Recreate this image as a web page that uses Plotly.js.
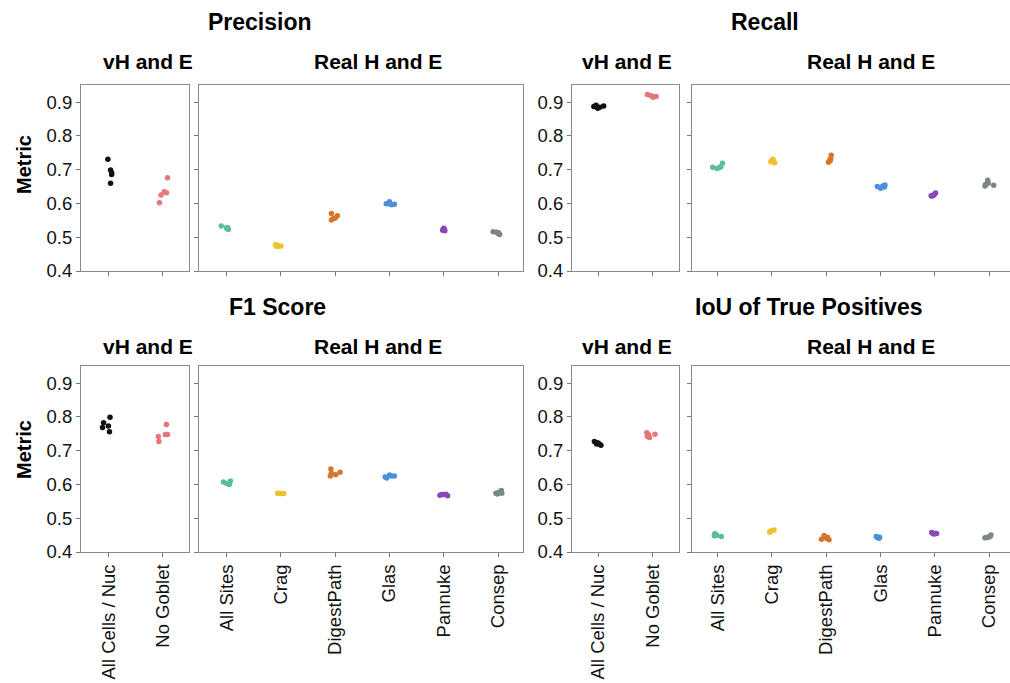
<!DOCTYPE html>
<html>
<head>
<meta charset="utf-8">
<script src="https://cdn.plot.ly/plotly-3.0.1.min.js"></script>
<style>html,body{margin:0;padding:0;background:#fff;}#chart{width:1010px;height:683px;}</style>
</head>
<body>
<div id="chart"></div>
<script>
// ---- categories ----
const vhCategories = ["All Cells / Nuc", "No Goblet"];
const realCategories = ["All Sites", "Crag", "DigestPath", "Glas", "Pannuke", "Consep"];
const yTickVals = [0.4, 0.5, 0.6, 0.7, 0.8, 0.9];
const yTickText = ["0.4", "0.5", "0.6", "0.7", "0.8", "0.9"];

// ---- values (per category, one value per run) ----
const precisionVH = [
  [0.731, 0.699, 0.691, 0.686, 0.660],
  [0.676, 0.602, 0.625, 0.635, 0.632]
];
const precisionVHJitter = [
  [-0.02, 0.03, 0.05, 0.05, 0.03],
  [0.09, -0.06, -0.03, 0.03, 0.07]
];
const precisionReal = [
  [0.533, 0.529, 0.526, 0.523, 0.528],
  [0.478, 0.473, 0.474, 0.473, 0.476],
  [0.570, 0.564, 0.557, 0.551, 0.555],
  [0.599, 0.605, 0.596, 0.598, 0.599],
  [0.527, 0.521, 0.519, 0.523, 0.524],
  [0.516, 0.515, 0.513, 0.508, 0.511]
];
const precisionRealJitter = [
  [-0.10, 0.00, 0.00, 0.03, 0.02],
  [-0.10, -0.05, 0.00, -0.08, -0.07],
  [-0.07, 0.04, 0.00, -0.07, -0.04],
  [-0.06, 0.00, 0.04, 0.09, -0.02],
  [0.00, -0.02, 0.02, 0.01, -0.01],
  [-0.09, -0.03, 0.01, 0.03, 0.00]
];

const recallVH = [
  [0.887, 0.891, 0.882, 0.885, 0.889],
  [0.923, 0.920, 0.915, 0.917, 0.917]
];
const recallVHJitter = [
  [-0.08, -0.04, -0.01, 0.03, 0.10],
  [-0.10, -0.04, 0.01, 0.06, -0.01]
];
const recallReal = [
  [0.707, 0.704, 0.706, 0.709, 0.719],
  [0.724, 0.731, 0.721, 0.728, 0.725],
  [0.743, 0.730, 0.722, 0.726, 0.732],
  [0.650, 0.645, 0.652, 0.655, 0.649],
  [0.622, 0.627, 0.631, 0.624, 0.623],
  [0.652, 0.669, 0.660, 0.654, 0.656]
];
const recallRealJitter = [
  [-0.09, -0.01, 0.03, 0.06, 0.09],
  [-0.02, 0.02, 0.05, 0.00, 0.01],
  [0.09, 0.07, 0.04, 0.07, 0.08],
  [-0.06, 0.00, 0.04, 0.08, 0.07],
  [-0.06, -0.01, 0.01, -0.03, -0.07],
  [-0.08, -0.03, -0.02, 0.08, -0.07]
];

const f1VH = [
  [0.783, 0.769, 0.773, 0.799, 0.756],
  [0.778, 0.742, 0.727, 0.748, 0.748]
];
const f1VHJitter = [
  [-0.10, -0.12, -0.01, 0.02, 0.01],
  [0.07, -0.08, -0.07, 0.05, 0.09]
];
const f1Real = [
  [0.607, 0.603, 0.600, 0.610, 0.604],
  [0.574, 0.573, 0.573, 0.574],
  [0.646, 0.625, 0.629, 0.636, 0.633],
  [0.622, 0.628, 0.625, 0.619, 0.625],
  [0.568, 0.570, 0.571, 0.567, 0.570],
  [0.574, 0.576, 0.582, 0.574, 0.572]
];
const f1RealJitter = [
  [-0.06, 0.00, 0.05, 0.07, 0.03],
  [-0.05, 0.05, 0.01, -0.06],
  [-0.08, -0.09, 0.01, 0.09, -0.07],
  [-0.08, 0.00, 0.09, -0.05, 0.04],
  [-0.07, -0.01, 0.04, 0.07, -0.04],
  [-0.04, 0.01, 0.06, 0.07, -0.01]
];

const iouVH = [
  [0.727, 0.720, 0.720, 0.716, 0.724],
  [0.753, 0.742, 0.739, 0.749, 0.748]
];
const iouVHJitter = [
  [-0.07, -0.03, 0.02, 0.05, -0.01],
  [-0.11, -0.10, -0.06, 0.04, -0.08]
];
const iouReal = [
  [0.454, 0.449, 0.446, 0.448, 0.452],
  [0.459, 0.465, 0.462, 0.460],
  [0.438, 0.449, 0.444, 0.436, 0.441],
  [0.446, 0.441, 0.443, 0.444],
  [0.458, 0.453, 0.455, 0.456, 0.455],
  [0.442, 0.444, 0.450, 0.443, 0.446]
];
const iouRealJitter = [
  [-0.05, -0.02, 0.07, -0.06, -0.03],
  [-0.04, 0.04, -0.02, -0.03],
  [-0.09, -0.04, 0.02, 0.05, 0.00],
  [-0.08, -0.03, -0.06, -0.02],
  [-0.06, -0.02, 0.03, -0.05, 0.00],
  [-0.08, -0.02, 0.03, -0.05, 0.01]
];

// ---- styles ----
const vhColors = ["#111111", "#e8757b"];
const realColors = ["#5bbf9b", "#efc12c", "#d5762a", "#4c8fdc", "#8a47b8", "#7a8784"];
const FONT = "Liberation Sans, Arial, Helvetica, sans-serif";
const W = 1010, H = 683;

// panel pixel boxes [x0, x1, y0(top), y1(bottom)]
const panels = [
  {ax: "", box: [81, 189, 85, 271], range: [-0.52, 1.49], cats: vhCategories, data: precisionVH, jit: precisionVHJitter, colors: vhColors, ylabels: true, xlabels: false, rightLine: true},
  {ax: "2", box: [199, 523, 85, 271], range: [-0.51, 5.46], cats: realCategories, data: precisionReal, jit: precisionRealJitter, colors: realColors, ylabels: false, xlabels: false, rightLine: true},
  {ax: "3", box: [572, 679, 85, 271], range: [-0.48, 1.48], cats: vhCategories, data: recallVH, jit: recallVHJitter, colors: vhColors, ylabels: true, xlabels: false, rightLine: true},
  {ax: "4", box: [692, 1010, 85, 271], range: [-0.47, 5.38], cats: realCategories, data: recallReal, jit: recallRealJitter, colors: realColors, ylabels: false, xlabels: false, rightLine: false},
  {ax: "5", box: [81, 189, 366, 552], range: [-0.52, 1.49], cats: vhCategories, data: f1VH, jit: f1VHJitter, colors: vhColors, ylabels: true, xlabels: true, rightLine: true},
  {ax: "6", box: [199, 523, 366, 552], range: [-0.51, 5.46], cats: realCategories, data: f1Real, jit: f1RealJitter, colors: realColors, ylabels: false, xlabels: true, rightLine: true},
  {ax: "7", box: [572, 679, 366, 552], range: [-0.48, 1.48], cats: vhCategories, data: iouVH, jit: iouVHJitter, colors: vhColors, ylabels: true, xlabels: true, rightLine: true},
  {ax: "8", box: [692, 1010, 366, 552], range: [-0.47, 5.38], cats: realCategories, data: iouReal, jit: iouRealJitter, colors: realColors, ylabels: false, xlabels: true, rightLine: false}
];

const traces = [];
const layout = {
  width: W, height: H,
  margin: {l: 0, r: 0, t: 0, b: 0},
  paper_bgcolor: "#ffffff",
  plot_bgcolor: "#ffffff",
  showlegend: false,
  font: {family: FONT, color: "#111"},
  annotations: [],
  shapes: []
};

panels.forEach(p => {
  const xa = "x" + p.ax, ya = "y" + p.ax;
  p.data.forEach((vals, i) => {
    traces.push({
      type: "scatter", mode: "markers",
      x: vals.map((v, k) => i + p.jit[i][k]),
      y: vals,
      xaxis: xa, yaxis: ya,
      marker: {color: p.colors[i], size: 5.5, line: {width: 0}},
      hoverinfo: "y"
    });
  });
  const [x0, x1, y0, y1] = p.box;
  layout["xaxis" + p.ax] = {
    domain: [x0 / W, x1 / W],
    anchor: ya,
    range: p.range,
    tickmode: "array",
    tickvals: p.cats.map((c, i) => i),
    ticktext: p.cats,
    showticklabels: p.xlabels,
    tickangle: -90,
    tickfont: {size: 18.5, family: FONT, color: "#111"},
    ticks: "outside", ticklen: 4, tickcolor: "#777", tickwidth: 1,
    showline: true, linecolor: "#8a8a8a", linewidth: 1, mirror: true,
    showgrid: false, zeroline: false, fixedrange: true
  };
  layout["yaxis" + p.ax] = {
    domain: [1 - y1 / H, 1 - y0 / H],
    anchor: xa,
    range: [0.4, 0.951],
    tickmode: "array",
    tickvals: yTickVals,
    ticktext: yTickText,
    showticklabels: p.ylabels,
    tickfont: {size: 18.5, family: FONT, color: "#111"},
    ticks: "outside", ticklen: 4, tickcolor: "#777", tickwidth: 1,
    showline: true, linecolor: "#8a8a8a", linewidth: 1, mirror: p.rightLine,
    showgrid: false, zeroline: false, fixedrange: true
  };
});

function ann(text, px, py, size, angle) {
  layout.annotations.push({
    text: "<b>" + text + "</b>",
    xref: "paper", yref: "paper",
    x: px / W, y: 1 - py / H,
    xanchor: "center", yanchor: "middle",
    showarrow: false,
    textangle: angle || 0,
    font: {family: FONT, size: size, color: "#000"}
  });
}
ann("Precision", 260, 22, 23);
ann("vH and E", 148, 61, 21);
ann("Real H and E", 378, 61, 21);
ann("Recall", 765, 22, 23);
ann("vH and E", 627, 61, 21);
ann("Real H and E", 871, 61, 21);
ann("F1 Score", 277, 307, 23);
ann("vH and E", 148, 346, 21);
ann("Real H and E", 378, 346, 21);
ann("IoU of True Positives", 809, 307, 23);
ann("vH and E", 627, 346, 21);
ann("Real H and E", 871, 346, 21);
ann("Metric", 24, 165, 20, -90);
ann("Metric", 24, 450, 20, -90);

Plotly.newPlot("chart", traces, layout, {displayModeBar: false, staticPlot: true});
</script>
</body>
</html>
